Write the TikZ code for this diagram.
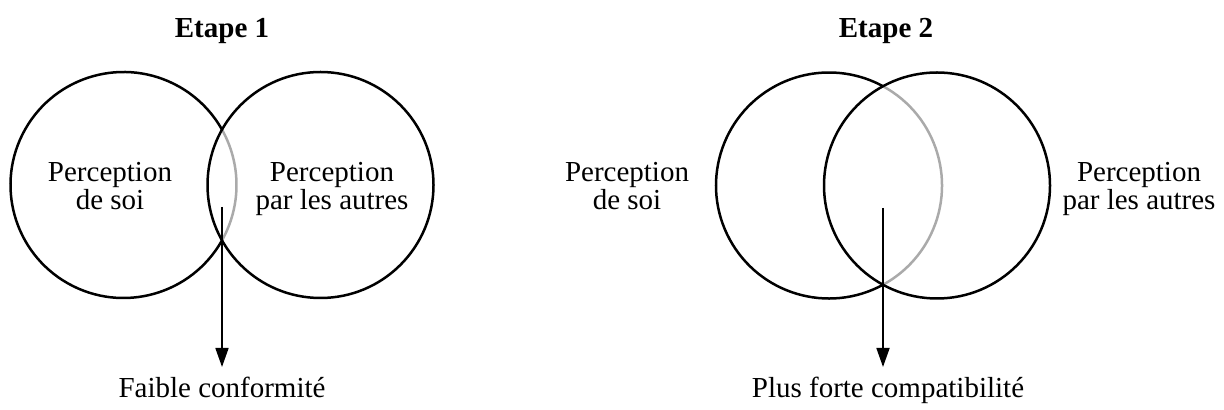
\documentclass[tikz,border=0pt]{standalone}
\usepackage{fontspec}
\setmainfont{Liberation Serif}
\usetikzlibrary{arrows.meta}
\definecolor{arcgrey}{RGB}{170,170,170}
\tikzset{
  ring/.style={line width=1.25pt, draw=black},
  ringgrey/.style={line width=1.25pt, draw=arcgrey},
  lbl/.style={font=\fontsize{14.5}{14}\selectfont, align=center, inner sep=0pt, anchor=base},
  title/.style={font=\fontsize{14.5}{14}\selectfont\bfseries, inner sep=0pt, anchor=base},
  pointer/.style={line width=0.85pt, -{Triangle[width=6.5pt,length=9.5pt]}}
}
\begin{document}
\begin{tikzpicture}[x=0.5pt,y=-0.5pt]
\useasboundingbox (0,0) rectangle (1224,410);
% ---- Etape 1
\node[title] (t1) at (222,38) {Etape 1};
\draw[ring] (123.5,185) ++(29.4:113) arc[start angle=29.4, end angle=330.6, radius=113];
\draw[ringgrey] (123.5,185) ++(-29.4:113) arc[start angle=-29.4, end angle=29.4, radius=113];
\draw[ring] (320.5,185) circle[radius=113];
\node[lbl] (s1) at (110,210) {Perception\\de soi};
\node[lbl] (o1) at (332,210) {Perception\\par les autres};
\coordinate (a1) at (222,207);
\coordinate (b1) at (222,367);
\draw[pointer] (a1) -- (b1);
\node[lbl] (r1) at (222,398) {Faible conformité};
% ---- Etape 2
\node[title] (t2) at (886,38) {Etape 2};
\draw[ring] (829,185.5) ++(61.5:113) arc[start angle=61.5, end angle=298.5, radius=113];
\draw[ringgrey] (829,185.5) ++(-61.5:113) arc[start angle=-61.5, end angle=61.5, radius=113];
\draw[ring] (937,185.5) circle[radius=113];
\node[lbl] (s2) at (627,210) {Perception\\de soi};
\node[lbl] (o2) at (1139,210) {Perception\\par les autres};
\coordinate (a2) at (883,208);
\coordinate (b2) at (883,367);
\draw[pointer] (a2) -- (b2);
\node[lbl] (r2) at (888,398) {Plus forte compatibilité};
\end{tikzpicture}
\end{document}
